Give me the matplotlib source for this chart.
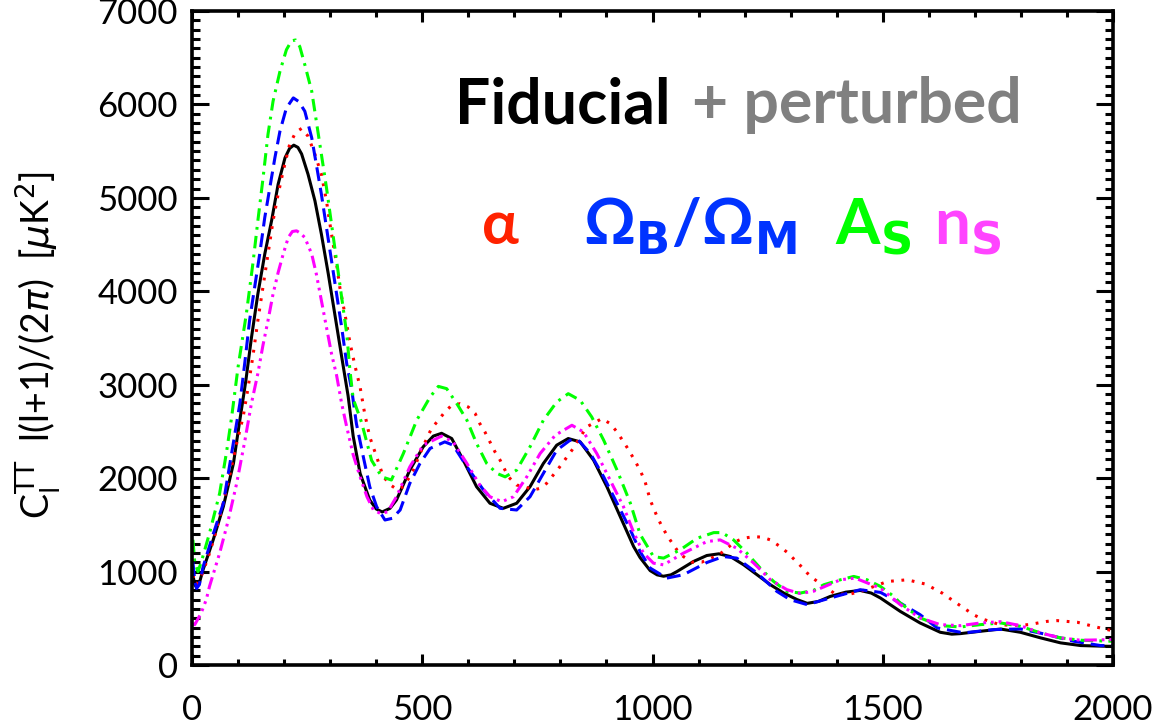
import matplotlib
matplotlib.use("Agg")
import matplotlib.pyplot as plt
from matplotlib.ticker import MultipleLocator

plt.rcParams['font.family'] = ['Lato', 'DejaVu Sans']
plt.rcParams['mathtext.fontset'] = 'dejavusans'
plt.rcParams['lines.scale_dashes'] = False

# fiducial spectrum
l_fid = [2, 6, 10, 16, 24, 46, 68, 90, 102, 117, 129, 143, 158, 173, 187, 202, 212, 221, 230, 238,
         252, 267, 281, 296, 310, 325, 339, 350, 365, 386, 400, 413, 430, 444, 473, 502, 524, 542,
         564, 589, 618, 647, 676, 705, 734, 763, 792, 817, 843, 872, 901, 930, 959, 973, 995, 1010,
         1024, 1040, 1053, 1089, 1118, 1144, 1169, 1198, 1227, 1256, 1285, 1314, 1336, 1360, 1386,
         1420, 1451, 1475, 1495, 1538, 1581, 1625, 1650, 1669, 1712, 1756, 1799, 1843, 1886, 1930,
         1988, 2000]
c_fid = [960, 860, 830, 880, 1019, 1339, 1695, 2157, 2560, 3046, 3500, 3971, 4398, 4760, 5145, 5429,
         5530, 5564, 5540, 5470, 5252, 4967, 4611, 4185, 3758, 3300, 2880, 2450, 2051, 1766, 1670,
         1638, 1677, 1766, 2086, 2335, 2450, 2480, 2424, 2193, 1908, 1731, 1677, 1731, 1908, 2157,
         2353, 2424, 2388, 2193, 1908, 1588, 1268, 1150, 1010, 965, 950, 965, 1000, 1108, 1172,
         1190, 1161, 1072, 966, 859, 770, 700, 660, 680, 734, 780, 798, 770, 717, 574, 450, 350,
         330, 336, 361, 385, 350, 290, 237, 208, 200, 200]

# alpha perturbed
l_alpha = [2, 6, 10, 20, 35, 49, 64, 78, 97, 111, 122, 133, 143, 154, 165, 176, 187, 198, 212, 225,
           238, 252, 267, 281, 292, 303, 314, 321, 332, 343, 354, 365, 375, 386, 401, 415, 430, 445,
           460, 480, 500, 520, 535, 549, 564, 582, 600, 615, 625, 636, 647, 658, 669, 687, 705, 723,
           741, 756, 770, 796, 825, 857, 890, 908, 923, 944, 959, 973, 984, 995, 1010, 1020, 1031,
           1042, 1053, 1067, 1086, 1107, 1144, 1180, 1198, 1220, 1238, 1256, 1274, 1292, 1321, 1336,
           1350, 1368, 1394, 1423, 1452, 1481, 1510, 1553, 1593, 1629, 1663, 1698, 1716, 1756, 1792,
           1817, 1857, 1879, 1923, 1962, 1995, 2000]
c_alpha = [960, 880, 860, 950, 1150, 1374, 1659, 1944, 2371, 2655, 2975, 3331, 3686, 4042, 4398,
           4754, 5038, 5287, 5572, 5700, 5743, 5660, 5465, 5252, 4967, 4611, 4291, 4042, 3758, 3450,
           3200, 2975, 2691, 2441, 2228, 2020, 1930, 1880, 1910, 2080, 2320, 2531, 2620, 2708, 2780,
           2797, 2761, 2691, 2584, 2495, 2388, 2281, 2193, 2014, 1926, 1908, 1873, 1891, 1944, 2104,
           2299, 2548, 2637, 2584, 2495, 2335, 2211, 2086, 1961, 1766, 1588, 1488, 1392, 1310, 1232,
           1161, 1101, 1101, 1179, 1321, 1357, 1374, 1368, 1339, 1278, 1208, 1065, 984, 923, 859,
           770, 752, 787, 841, 894, 912, 866, 770, 653, 536, 493, 429, 425, 432, 467, 475, 457, 408,
           371, 365]

# Omega_B / Omega_M perturbed
l_ob = [2, 6, 10, 16, 24, 46, 68, 86, 104, 115, 125, 136, 147, 158, 169, 180, 191, 205, 220, 232,
        245, 260, 270, 281, 292, 303, 314, 325, 336, 347, 357, 372, 386, 401, 419, 435, 452, 473,
        495, 517, 549, 567, 597, 633, 669, 705, 734, 763, 792, 821, 839, 865, 894, 923, 952, 973,
        995, 1031, 1067, 1118, 1154, 1183, 1227, 1270, 1299, 1336, 1386, 1451, 1495, 1538, 1581,
        1618, 1676, 1741, 1799, 1850, 1915, 1973, 2000]
c_ob = [1100, 900, 820, 860, 1050, 1400, 1730, 2264, 2800, 3250, 3686, 4042, 4398, 4789, 5109, 5429,
        5714, 5962, 6070, 6030, 5927, 5642, 5358, 5038, 4682, 4327, 3971, 3615, 3224, 2940, 2584,
        2228, 1908, 1694, 1552, 1570, 1659, 1944, 2157, 2318, 2388, 2353, 2121, 1873, 1677, 1659,
        1801, 2051, 2299, 2406, 2406, 2264, 2014, 1731, 1446, 1214, 1037, 930, 966, 1097, 1161,
        1144, 984, 788, 699, 646, 717, 806, 777, 663, 539, 397, 344, 379, 386, 333, 254, 208, 208]

# A_S perturbed
l_as = [2, 6, 13, 20, 38, 60, 75, 86, 100, 118, 133, 143, 154, 165, 176, 191, 205, 216, 225, 234,
        245, 260, 270, 281, 292, 303, 314, 325, 336, 343, 350, 368, 390, 412, 433, 459, 488, 517,
        535, 553, 575, 597, 618, 640, 662, 680, 705, 734, 763, 792, 817, 843, 868, 894, 923, 952,
        973, 1002, 1024, 1060, 1097, 1133, 1151, 1176, 1205, 1234, 1263, 1292, 1321, 1350, 1372,
        1408, 1437, 1466, 1495, 1524, 1538, 1581, 1625, 1669, 1712, 1756, 1799, 1843, 1886, 1930,
        2000]
c_as = [1340, 1100, 1000, 1100, 1410, 1837, 2280, 2650, 3188, 3758, 4327, 4754, 5200, 5679, 6034,
        6354, 6585, 6680, 6690, 6620, 6425, 6141, 5820, 5465, 5109, 4718, 4327, 3935, 3545, 3153,
        2850, 2600, 2190, 2014, 1980, 2264, 2620, 2868, 2982, 2958, 2798, 2620, 2371, 2157, 2051,
        2014, 2086, 2335, 2620, 2815, 2904, 2833, 2655, 2406, 2086, 1731, 1400, 1161, 1144, 1232,
        1357, 1417, 1417, 1339, 1197, 1037, 894, 788, 770, 800, 859, 912, 948, 912, 841, 734, 663,
        504, 421, 407, 432, 450, 414, 343, 290, 265, 254]

# n_S perturbed
l_ns = [2, 6, 20, 31, 38, 60, 78, 97, 115, 129, 143, 154, 165, 176, 187, 198, 209, 218, 227, 236,
        245, 260, 270, 281, 292, 303, 314, 325, 336, 350, 365, 380, 394, 410, 425, 444, 473, 502,
        542, 567, 597, 625, 647, 673, 698, 727, 756, 789, 825, 850, 879, 908, 937, 959, 980, 1002,
        1024, 1067, 1118, 1147, 1183, 1220, 1256, 1292, 1321, 1350, 1408, 1440, 1495, 1538, 1581,
        1625, 1669, 1712, 1756, 1799, 1843, 1886, 1930, 2000]
c_ns = [440, 432, 557, 700, 841, 1197, 1534, 1944, 2406, 2798, 3120, 3420, 3686, 3971, 4200, 4398,
        4575, 4640, 4647, 4620, 4575, 4398, 4185, 3900, 3615, 3331, 3100, 2798, 2548, 2250, 2014,
        1800, 1659, 1620, 1640, 1801, 2121, 2353, 2450, 2388, 2157, 1926, 1801, 1748, 1801, 2014,
        2264, 2460, 2566, 2495, 2264, 1979, 1694, 1420, 1200, 1090, 1072, 1197, 1321, 1339, 1250,
        1090, 912, 806, 765, 790, 912, 930, 823, 646, 504, 432, 421, 450, 464, 421, 343, 290, 265,
        272]

fig = plt.figure(figsize=(11.66, 7.26), dpi=100)
ax = fig.add_axes([192 / 1166, 1 - 665 / 726, 921 / 1166, 654 / 726])

ax.plot(l_fid, c_fid, color='black', lw=2.2, ls='-')
ax.plot(l_alpha, c_alpha, color='#ff0000', lw=2.2, ls=(0, (2, 5.5)))
ax.plot(l_ob, c_ob, color='#0000ff', lw=2.2, ls=(0, (10, 5)))
ax.plot(l_as, c_as, color='#00ff00', lw=2.2, ls=(0, (9, 4.5, 2, 4.5)))
ax.plot(l_ns, c_ns, color='#ff00ff', lw=2.2, ls=(0, (9, 3.5, 2, 3.5, 2, 3.5, 2, 3.5)))

ax.set_xlim(0, 2000)
ax.set_ylim(0, 7000)
ax.xaxis.set_major_locator(MultipleLocator(500))
ax.xaxis.set_minor_locator(MultipleLocator(100))
ax.yaxis.set_major_locator(MultipleLocator(1000))
ax.yaxis.set_minor_locator(MultipleLocator(100))
ax.tick_params(which='both', direction='in', top=True, right=True, width=2.2,
               labelsize=25, color='black')
ax.tick_params(axis='y', which='major', length=12.5, pad=10)
ax.tick_params(axis='y', which='minor', length=6)
ax.tick_params(axis='x', which='major', length=8, pad=21)
ax.tick_params(axis='x', which='minor', length=4)
for s in ax.spines.values():
    s.set_linewidth(2.6)

fig.text(38 / 1166, 1 - 345 / 726, r"C$_{\rm l}^{\rm TT}$  l(l+1)/(2$\pi$)  [$\mu$K$^2$]",
         rotation=90, ha='center', va='center', fontsize=27)

fig.text(455 / 1166, 1 - 123 / 726, "Fiducial", fontsize=45, fontweight='bold',
         color='black', va='baseline', ha='left')
fig.text(1022 / 1166, 1 - 123 / 726, "+ perturbed", fontsize=45, fontweight='bold',
         color='#808080', va='baseline', ha='right')

y2 = 1 - 244 / 726
fig.text(500 / 1166, y2, "α", fontsize=44, fontweight='bold', color='#ff2200',
         va='baseline', ha='center')
fig.text(690 / 1166, y2, r"Ω$_\mathbf{B}$/Ω$_\mathbf{M}$", fontsize=46, fontweight='bold',
         color='#0033ff', va='baseline', ha='center')
fig.text(873 / 1166, y2, r"A$_\mathbf{S}$", fontsize=46, fontweight='bold', color='#00ff00',
         va='baseline', ha='center')
fig.text(968 / 1166, y2, r"n$_\mathbf{S}$", fontsize=46, fontweight='bold', color='#ff44ff',
         va='baseline', ha='center')

fig.savefig("out.png", dpi=100)
